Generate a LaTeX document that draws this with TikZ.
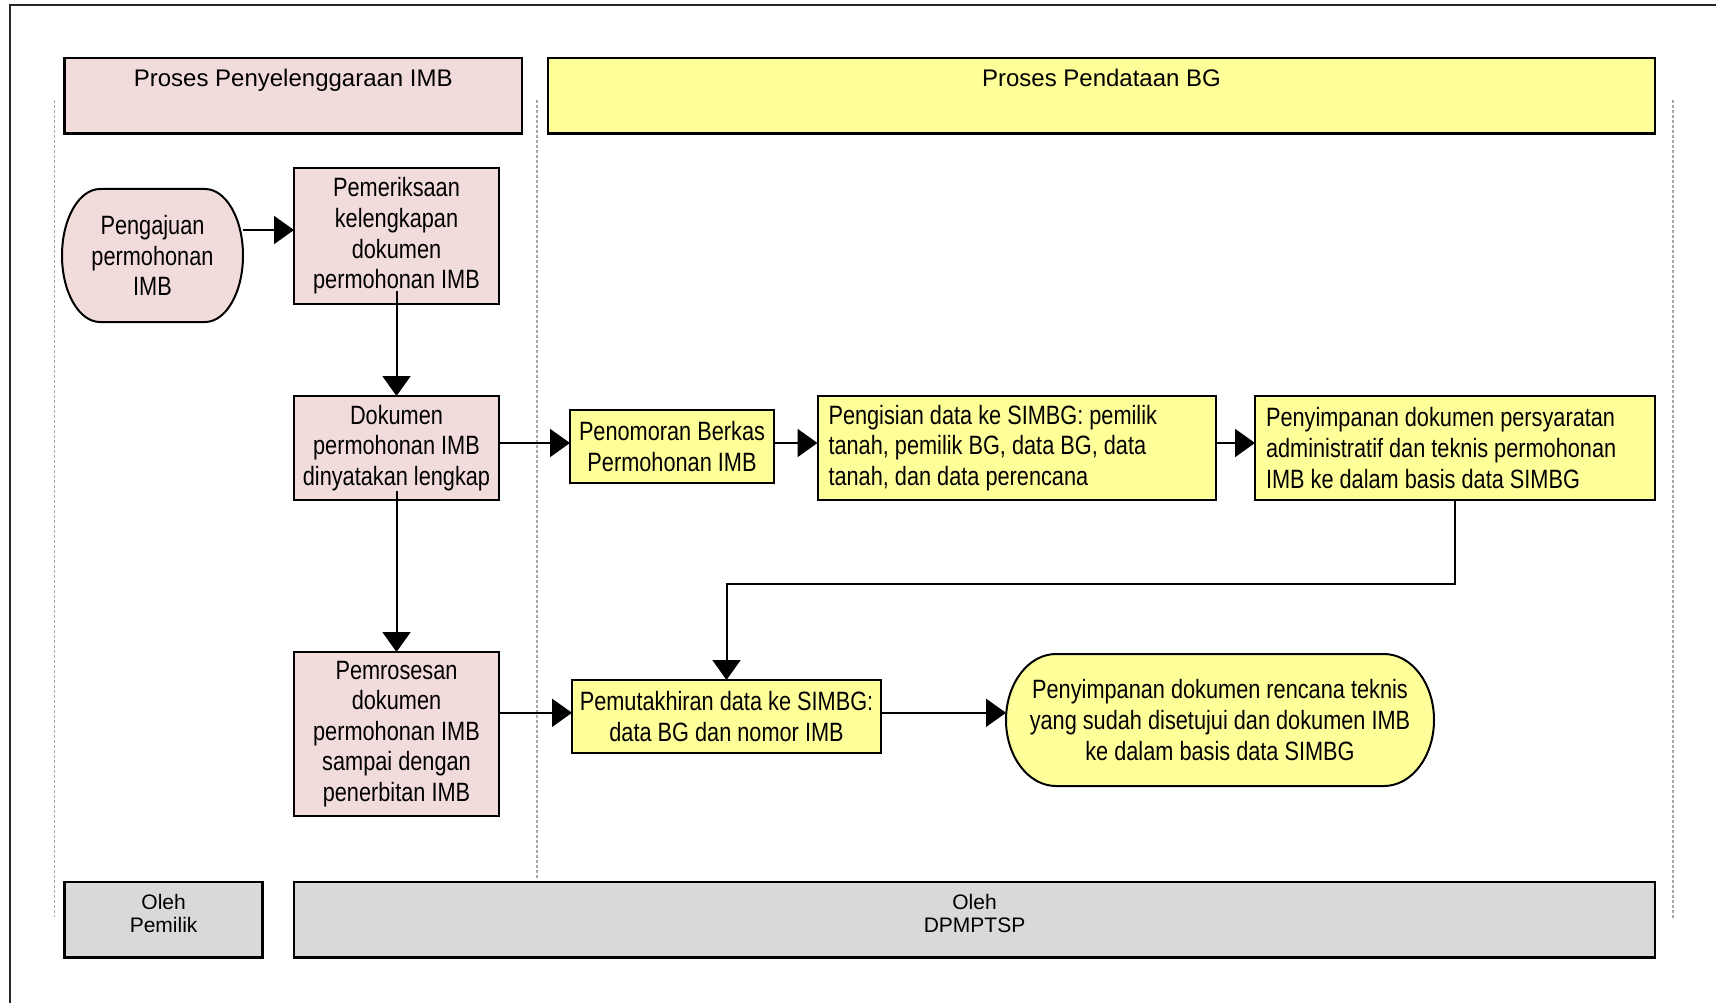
\documentclass[tikz,border=0pt]{standalone}
\usepackage{fontspec}
\setmainfont{Liberation Sans}
\newfontfamily\narrowfont{Liberation Sans}[FakeStretch=0.82]
\usetikzlibrary{arrows.meta,calc}
\definecolor{pinkF}{HTML}{F2DCDB}
\definecolor{yelF}{HTML}{FFFF99}
\definecolor{grayF}{HTML}{D9D9D9}
\pgfdeclarelayer{bg}
\pgfsetlayers{bg,main}
\tikzset{
 boxfont/.style={font=\narrowfont\fontsize{26.5}{30.6}\selectfont},
 box/.style={boxfont, draw=black, line width=2pt, inner sep=0pt, outer sep=0pt, align=center},
 pinkbox/.style={box, fill=pinkF},
 yelbox/.style={box, fill=yelF},
 leftbox/.style={yelbox, align=left, inner xsep=11pt, inner ysep=0pt},
 stadnode/.style={boxfont, inner sep=0pt, outer sep=0pt, align=center},
 stad/.style={draw=black, line width=2pt},
 hdr/.style={draw=black, line width=2.5pt, inner sep=0pt, outer sep=0pt},
 hdrtext/.style={font=\fontsize{24}{28}\selectfont, inner sep=0pt, anchor=north},
 graybox/.style={draw=black, line width=2.5pt, fill=grayF, inner sep=0pt, outer sep=0pt},
 graytext/.style={font=\fontsize{21}{23.3}\selectfont, inner sep=0pt, anchor=north, align=center},
 lane/.style={draw=black!35, line width=1.2pt, dash pattern=on 3pt off 2pt},
 arr/.style={draw=black, line width=2pt, -{Triangle[length=20pt,width=28pt]}},
 frame/.style={draw=black!85, line width=2pt},
}
\begin{document}
\begin{tikzpicture}[x=1pt,y=-1pt]
\useasboundingbox (0,0) rectangle (1716,1003);
\begin{pgfonlayer}{bg}
\fill[white] (0,0) rectangle (1716,1003);
\end{pgfonlayer}
% outer frame (top and left edges)
\draw[frame] (10,1003) -- (10,5.5) -- (1716,5.5);
% lanes
\draw[lane] (54.7,100) -- (54.7,917);
\draw[lane] (537,100) -- (537,879);
\draw[lane] (1673,100) -- (1673,918);
% headers
\node[hdr, fill=pinkF, minimum width=457.4pt, minimum height=75.5pt] (h1) at (293.3,95.75) {};
\node[hdr, fill=yelF, minimum width=1107pt, minimum height=75.5pt] (h2) at (1101.5,95.75) {};
\node[hdrtext] (h1t) at ([yshift=-11pt]h1.north) {Proses Penyelenggaraan IMB};
\node[hdrtext] (h2t) at ([yshift=-11pt]h2.north) {Proses Pendataan BG};
% bottom boxes
\node[graybox, minimum width=198pt, minimum height=75.6pt] (g1) at (163.65,919.8) {};
\node[graybox, minimum width=1361pt, minimum height=75.6pt] (g2) at (974.5,919.8) {};
\node[graytext] (g1t) at ([yshift=-12pt]g1.north) {Oleh\\Pemilik};
\node[graytext] (g2t) at ([yshift=-12pt]g2.north) {Oleh\\DPMPTSP};
% process nodes
\node[stadnode, minimum width=181pt, minimum height=133pt] (peng) at (152.5,255.5) {Pengajuan\\permohonan\\IMB};
\node[pinkbox, minimum width=205pt, minimum height=135pt] (pem) at (396.5,236) {Pemeriksaan\\kelengkapan\\dokumen\\permohonan IMB};
\node[pinkbox, minimum width=205pt, minimum height=104pt] (dok) at (396.5,448) {Dokumen\\permohonan IMB\\dinyatakan lengkap};
\node[pinkbox, minimum width=205pt, minimum height=164pt] (pros) at (396.5,734) {Pemrosesan\\dokumen\\permohonan IMB\\sampai dengan\\penerbitan IMB};
\node[yelbox, minimum width=204pt, minimum height=73pt] (pno) at (672,446.5) {Penomoran Berkas\\Permohonan IMB};
\node[leftbox, text width=376.5pt, minimum height=104pt] (pgs) at (1016.75,448) {\spaceskip=0pt\xspaceskip=0pt\relax Pengisian data ke SIMBG: pemilik\\tanah, pemilik BG, data BG, data\\tanah, dan data perencana};
\node[leftbox, text width=378pt, minimum height=104pt] (pen1) at (1455,448) {\spaceskip=0pt\xspaceskip=0pt\relax Penyimpanan dokumen persyaratan\\administratif dan teknis permohonan\\IMB ke dalam basis data SIMBG};
\node[yelbox, minimum width=309pt, minimum height=73pt] (mut) at (726.5,716.5) {Pemutakhiran data ke SIMBG:\\data BG dan nomor IMB};
\node[stadnode, minimum width=428pt, minimum height=132pt] (pen2) at (1220,720) {Penyimpanan dokumen rencana teknis\\yang sudah disetujui dan dokumen IMB\\ke dalam basis data SIMBG};
% stadium outlines behind their texts
\begin{pgfonlayer}{bg}
\path[stad, fill=pinkF] ([xshift=38pt]peng.north west) -- ([xshift=-38pt]peng.north east)
  arc[start angle=90, end angle=-90, x radius=38pt, y radius=66.5pt]
  -- ([xshift=38pt]peng.south west)
  arc[start angle=270, end angle=90, x radius=38pt, y radius=66.5pt] -- cycle;
\path[stad, fill=yelF] ([xshift=50pt]pen2.north west) -- ([xshift=-50pt]pen2.north east)
  arc[start angle=90, end angle=-90, x radius=50pt, y radius=66pt]
  -- ([xshift=50pt]pen2.south west)
  arc[start angle=270, end angle=90, x radius=50pt, y radius=66pt] -- cycle;
\end{pgfonlayer}
% connectors
\coordinate (a1) at ([yshift=6pt]pem.west);
\coordinate (r1) at (0,443);
\coordinate (r2) at (0,712.8);
\draw[arr] (a1 -| peng.east) -- (a1);
\draw[arr] ([yshift=13pt]pem.south) -- (dok.north);
\draw[arr] ([yshift=9pt]dok.south) -- (pros.north);
\draw[arr] (dok.east |- r1) -- (pno.west |- r1);
\draw[arr] (pno.east |- r1) -- (pgs.west |- r1);
\draw[arr] (pgs.east |- r1) -- (pen1.west |- r1);
\draw[arr] (pen1.south) -- ++(0,84) -| (mut.north);
\draw[arr] (pros.east |- r2) -- (mut.west |- r2);
\draw[arr] (mut.east |- r2) -- (pen2.west |- r2);
\end{tikzpicture}
\end{document}
